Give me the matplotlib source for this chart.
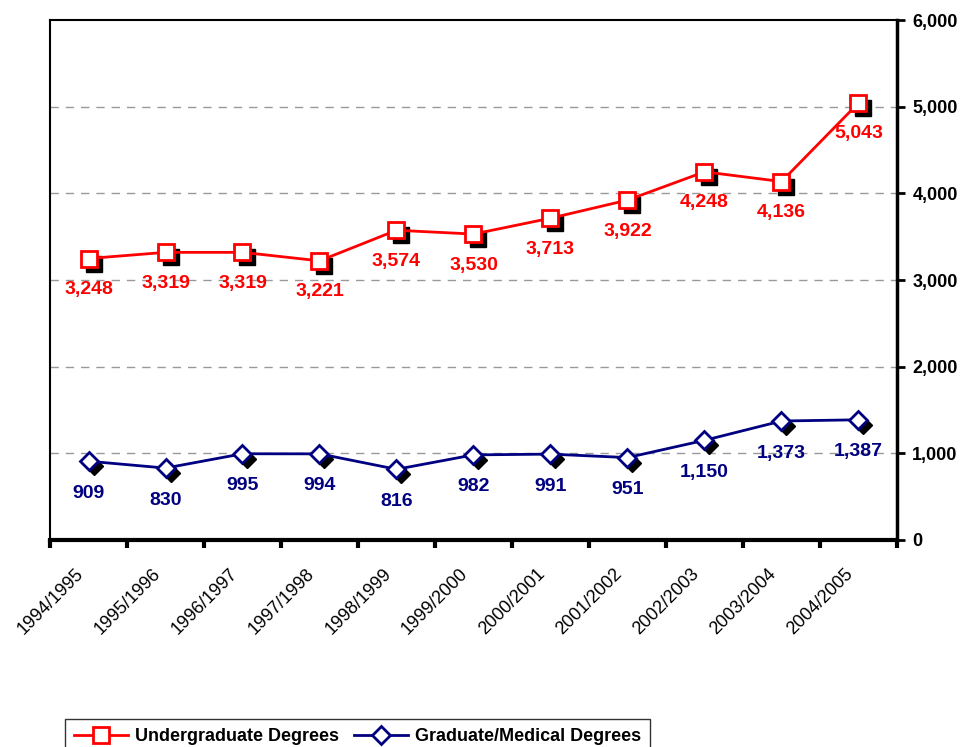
import matplotlib.pyplot as plt
import matplotlib.transforms as mtransforms
from matplotlib.lines import Line2D
import numpy as np

plt.rcParams['font.family'] = ['Liberation Sans', 'DejaVu Sans']

years = ["1994/1995", "1995/1996", "1996/1997", "1997/1998", "1998/1999",
         "1999/2000", "2000/2001", "2001/2002", "2002/2003", "2003/2004",
         "2004/2005"]
undergrad = [3248, 3319, 3319, 3221, 3574, 3530, 3713, 3922, 4248, 4136, 5043]
graduate = [909, 830, 995, 994, 816, 982, 991, 951, 1150, 1373, 1387]
y_ticks = [0, 1000, 2000, 3000, 4000, 5000, 6000]

red = "#ff0000"
navy = "#000080"

fig = plt.figure(figsize=(9.62, 7.47), dpi=100)
ax = fig.add_axes([50 / 962, 1 - 540 / 747, 847 / 962, 520 / 747])

x = np.arange(len(years))

# drop shadows under the markers
shadow = mtransforms.offset_copy(ax.transData, fig=fig, x=5, y=-5, units='dots')
ax.plot(x, undergrad, 's', ms=11, color='black', transform=shadow, zorder=2)
ax.plot(x, graduate, 'D', ms=9.5, color='black', transform=shadow, zorder=2)

ax.plot(x, undergrad, '-s', color=red, lw=2, ms=11, mfc='white', mec=red,
        mew=2, zorder=3)
ax.plot(x, graduate, '-D', color=navy, lw=2, ms=9.5, mfc='white', mec=navy,
        mew=2, zorder=3)

for xi, v in zip(x, undergrad):
    ax.annotate(f"{v:,}", (xi, v), xytext=(0, -31), textcoords='offset pixels',
                ha='center', va='center', color=red, fontsize=14,
                fontweight='bold', zorder=4)
for xi, v in zip(x, graduate):
    ax.annotate(f"{v:,}", (xi, v), xytext=(0, -32), textcoords='offset pixels',
                ha='center', va='center', color=navy, fontsize=14,
                fontweight='bold', zorder=4)

ax.set_xlim(-0.5, len(years) - 0.5)
ax.set_ylim(0, 6000)

# y axis on the right
ax.yaxis.tick_right()
ax.set_yticks(y_ticks)
ax.set_yticklabels([f"{t:,}" for t in y_ticks], fontsize=13, fontweight='bold')
ax.tick_params(axis='y', direction='out', length=6, width=2, pad=5)

# category boundaries as tick marks, labels at centers
ax.set_xticks(np.arange(-0.5, len(years)))
ax.set_xticklabels([])
ax.set_xticks(x, minor=True)
ax.set_xticklabels(years, minor=True, rotation=45, ha='right', va='top',
                   rotation_mode='anchor', fontsize=13)
ax.tick_params(axis='x', which='major', direction='out', length=6, width=3)
ax.tick_params(axis='x', which='minor', length=0, pad=18)
shift = mtransforms.ScaledTranslation(-0.14, 0, fig.dpi_scale_trans)
for lab in ax.get_xticklabels(minor=True):
    lab.set_transform(lab.get_transform() + shift)

for yv in y_ticks[1:-1]:
    ax.axhline(yv, color='#999999', lw=1, ls=(0, (6, 5)), zorder=1)

ax.spines['bottom'].set_linewidth(3)
ax.spines['right'].set_linewidth(2.5)
ax.spines['left'].set_linewidth(1.5)
ax.spines['top'].set_linewidth(1.5)

handles = [
    Line2D([], [], color=red, lw=2, marker='s', ms=11, mfc='white', mec=red, mew=2),
    Line2D([], [], color=navy, lw=2, marker='D', ms=9.5, mfc='white', mec=navy, mew=2),
]
leg = fig.legend(handles, ["Undergraduate Degrees", "Graduate/Medical Degrees"],
                 loc='upper left', bbox_to_anchor=(65 / 962, 1 - 719 / 747),
                 ncol=2, frameon=True, fancybox=False, edgecolor='black',
                 prop={'weight': 'bold', 'size': 13}, handlelength=3,
                 columnspacing=0.8, handletextpad=0.4, borderaxespad=0,
                 borderpad=0.5)
leg.get_frame().set_linewidth(1)

fig.savefig("out.png", dpi=100)
